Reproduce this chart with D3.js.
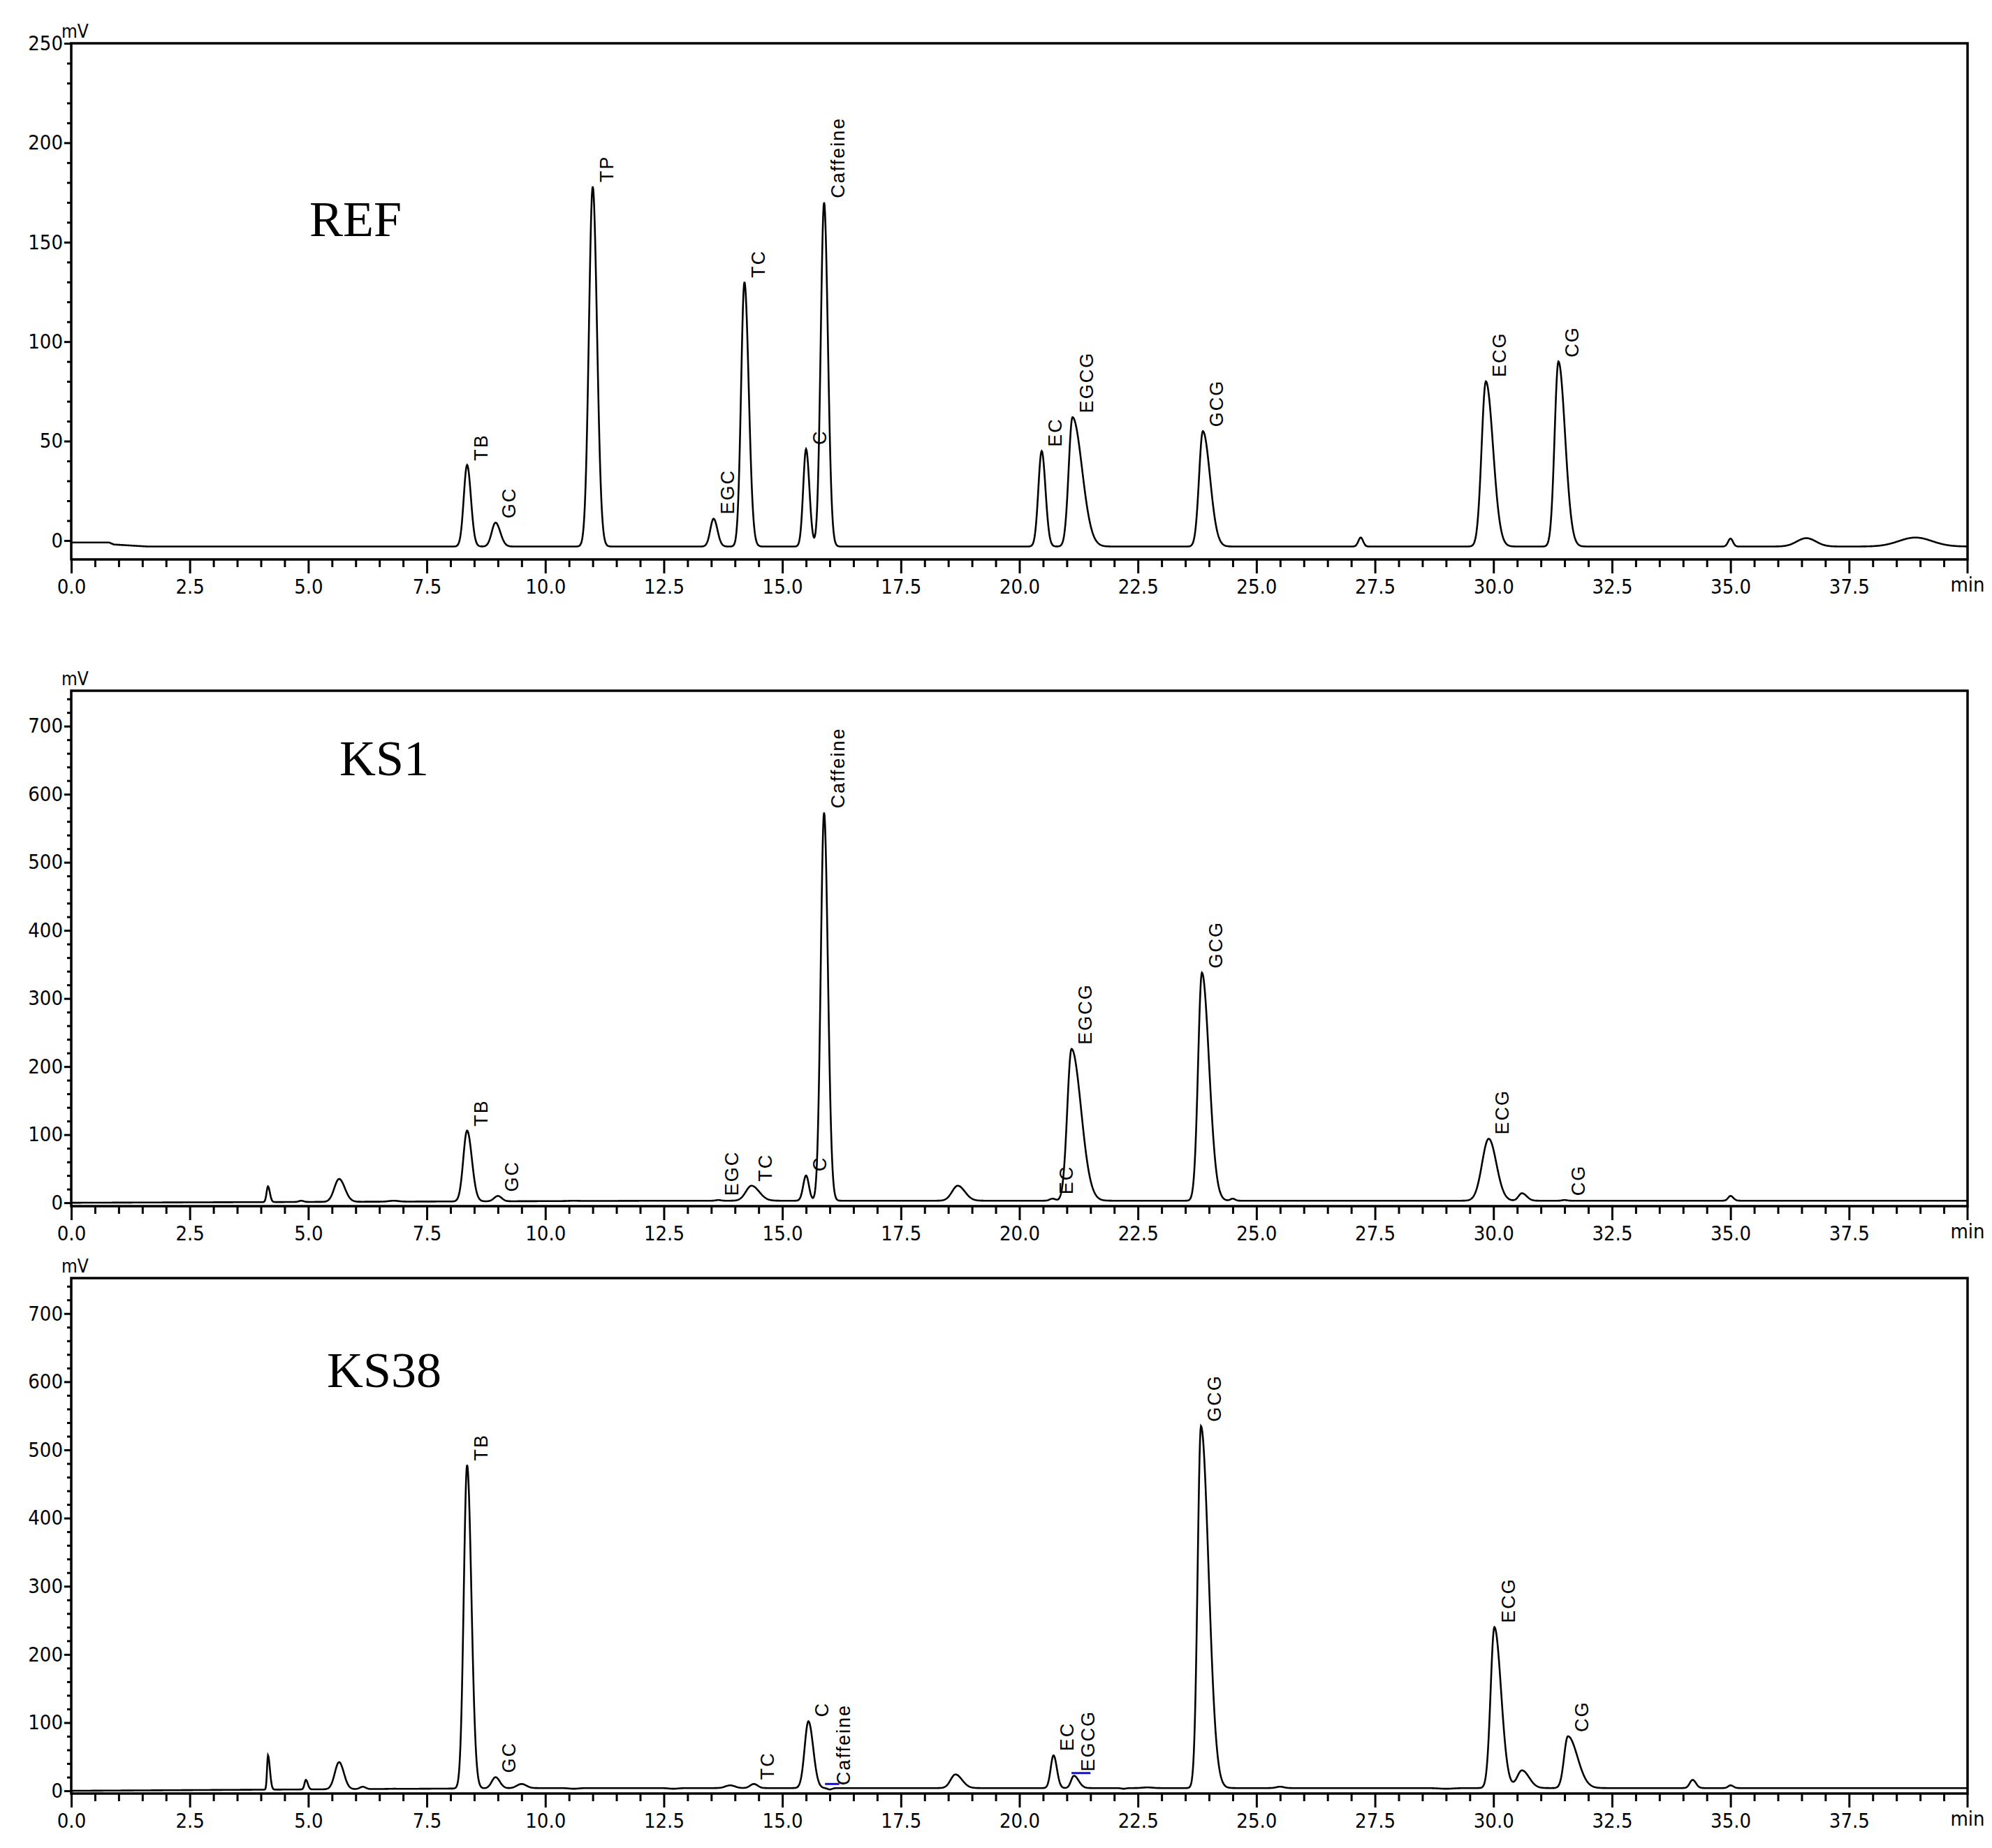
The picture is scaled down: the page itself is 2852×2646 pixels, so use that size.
<!DOCTYPE html>
<html><head><meta charset="utf-8">
<script src="https://cdn.jsdelivr.net/npm/d3@7"></script>
<style>body{margin:0;background:#fff}</style>
</head><body>
<svg id="c" width="2852" height="2646"></svg>
<script>
// ---- data ----
const xTicks = [0,2.5,5,7.5,10,12.5,15,17.5,20,22.5,25,27.5,30,32.5,35,37.5];
const sampleNames = ["REF","KS1","KS38"];
const yTicksRef = [0,50,100,150,200,250];
const yTicksKS = [0,100,200,300,400,500,600,700];

// REF: retention time, apex height (mV), sigma left, sigma right, label
const refRT   = [8.35,8.95,11.0,13.55,14.2,15.5,15.88,20.47,21.12,23.87,27.2,29.84,31.37,35.0,36.6,38.9];
const refH    = [38,9,178,11,130,46,170,45,62,55,1.5,80,90,1,1.2,1.5];
const refSL   = [0.07,0.08,0.08,0.07,0.07,0.06,0.07,0.07,0.08,0.08,0.05,0.09,0.08,0.05,0.2,0.35];
const refSR   = [0.08,0.1,0.09,0.08,0.09,0.07,0.08,0.08,0.2,0.15,0.05,0.15,0.14,0.05,0.2,0.35];
const refLab  = ["TB","GC","TP","EGC","TC","C","Caffeine","EC","EGCG","GCG","","ECG","CG","","",""];
const refBaseT = [0,0.8,0.9,1.6,40];
const refBaseV = [-1,-1,-2,-3,-3];

const ks1RT  = [4.15,4.85,5.65,6.8,8.35,9.0,10.6,13.65,14.35,15.5,15.88,18.7,20.7,21.1,22.3,23.85,24.5,25.5,29.9,30.6,31.5,35.0];
const ks1H   = [24,3,35,3,106,10,3,4,25,40,573,25,6,226,3,338,6,3,94,14,4,10];
const ks1SL  = [0.03,0.05,0.1,0.1,0.08,0.08,0.1,0.05,0.12,0.06,0.07,0.12,0.06,0.09,0.1,0.08,0.05,0.05,0.14,0.07,0.05,0.05];
const ks1SR  = [0.04,0.05,0.12,0.1,0.1,0.08,0.1,0.05,0.16,0.06,0.08,0.15,0.06,0.2,0.1,0.15,0.05,0.05,0.16,0.1,0.05,0.06];
const ks1Lab = ["","","","","TB","GC","","EGC","TC","C","Caffeine","","EC","EGCG","","GCG","","","ECG","","CG",""];
const ks1BaseT = [0,12.5,40];
const ks1BaseV = [0,3,3];

const ks38RT  = [4.15,4.95,5.65,6.15,6.8,8.35,8.95,9.5,10.6,12.7,13.9,14.4,15.55,16.0,18.65,20.72,21.15,21.8,22.2,22.7,23.83,25.5,29.0,30.02,30.6,31.57,34.2,35.0];
const ks38H   = [52,16,42,6,3,478,20,10,3,3,8,10,102,2,24,52,22,4,3,5,535,6,3,240,30,80,16,8];
const ks38SL  = [0.02,0.03,0.09,0.06,0.1,0.07,0.08,0.1,0.1,0.1,0.1,0.08,0.08,0.05,0.1,0.06,0.06,0.05,0.05,0.1,0.07,0.08,0.15,0.08,0.1,0.08,0.06,0.05];
const ks38SR  = [0.04,0.04,0.1,0.06,0.1,0.09,0.09,0.1,0.1,0.1,0.1,0.08,0.1,0.05,0.14,0.07,0.1,0.05,0.05,0.1,0.16,0.08,0.15,0.14,0.15,0.2,0.07,0.06];
const ks38Lab = ["","","","","","TB","GC","","","","","TC","C","Caffeine","","EC","EGCG","","","","GCG","","","ECG","","CG","",""];
const ks38BaseT = [0,9.8,40];
const ks38BaseV = [0,4,4];
const ks38BlueT = [[15.9,16.2],[21.1,21.5]];
const ks38BlueV = [10,26];

// ---- layout ----
const X0 = 102, X1 = 2817;
const panels = [
  {name:sampleNames[0], top:62, bottom:801, dom:[-9.5,250], ticks:yTicksRef, minor:10,
   rt:refRT,h:refH,sl:refSL,sr:refSR,lab:refLab,bt:refBaseT,bv:refBaseV, nameX:443, nameY:338},
  {name:sampleNames[1], top:989, bottom:1727, dom:[-5,752], ticks:yTicksKS, minor:20,
   rt:ks1RT,h:ks1H,sl:ks1SL,sr:ks1SR,lab:ks1Lab,bt:ks1BaseT,bv:ks1BaseV, nameX:486, nameY:1110},
  {name:sampleNames[2], top:1830, bottom:2568, dom:[-4,752], ticks:yTicksKS, minor:20,
   rt:ks38RT,h:ks38H,sl:ks38SL,sr:ks38SR,lab:ks38Lab,bt:ks38BaseT,bv:ks38BaseV, nameX:468, nameY:1986,
   blueT:ks38BlueT, blueV:ks38BlueV}
];

const svg = d3.select("#c");
const x = d3.scaleLinear().domain([0,40]).range([X0,X1]);
const tickFont = "'Liberation Sans Narrow','DejaVu Sans Condensed',sans-serif";
const times = d3.range(0,40.0001,0.01);

panels.forEach(p=>{
  const y = d3.scaleLinear().domain(p.dom).range([p.bottom,p.top]);
  const g = svg.append("g");
  const base = d3.scaleLinear().domain(p.bt).range(p.bv).clamp(true);
  const signal = t=>{
    let v = base(t);
    p.rt.forEach((r,i)=>{
      const s = t<r? p.sl[i] : p.sr[i];
      const d=(t-r)/s; if(Math.abs(d)<8) v += (p.h[i]-base(r))*Math.exp(-0.5*d*d);
    });
    return v;
  };
  const data = times.map(t=>[t,signal(t)]);
  g.append("path").datum(data)
    .attr("d", d3.line().x(d=>x(d[0])).y(d=>y(d[1])))
    .attr("fill","none").attr("stroke","#000").attr("stroke-width",2.6);

  // frame
  g.append("rect").attr("x",X0).attr("y",p.top).attr("width",X1-X0).attr("height",p.bottom-p.top)
    .attr("fill","none").attr("stroke","#000").attr("stroke-width",3.5);

  // x axis
  const xa = g.append("g").attr("transform",`translate(0,${p.bottom})`)
    .call(d3.axisBottom(x).tickValues(xTicks).tickSize(20).tickFormat(d3.format(".1f")));
  const xm = g.append("g").attr("transform",`translate(0,${p.bottom})`)
    .call(d3.axisBottom(x).tickValues(d3.range(0,40.01,0.5).filter(v=>v%2.5!==0)).tickSize(11).tickFormat(""));
  [xa,xm].forEach(a=>{a.select(".domain").remove(); a.selectAll("line").attr("stroke","#000").attr("stroke-width",3);});
  g.append("line").attr("x1",X1).attr("x2",X1).attr("y1",p.bottom).attr("y2",p.bottom+20).attr("stroke","#000").attr("stroke-width",3);
  xa.selectAll("text").attr("font-family",tickFont).attr("font-size",29).attr("fill","#000").attr("dy","0.9em");
  g.append("text").attr("x",X1).attr("y",p.bottom+20).attr("dy","0.9em").attr("text-anchor","middle")
    .attr("font-family",tickFont).attr("font-size",29).text("min");

  // y axis
  const ya = g.append("g").attr("transform",`translate(${X0},0)`)
    .call(d3.axisLeft(y).tickValues(p.ticks).tickSize(10).tickFormat(d3.format("d")));
  const ym = g.append("g").attr("transform",`translate(${X0},0)`)
    .call(d3.axisLeft(y).tickValues(d3.range(0,p.dom[1],p.minor).filter(v=>p.ticks.indexOf(v)<0)).tickSize(6).tickFormat(""));
  [ya,ym].forEach(a=>{a.select(".domain").remove(); a.selectAll("line").attr("stroke","#000").attr("stroke-width",3);});
  ya.selectAll("text").attr("font-family",tickFont).attr("font-size",29).attr("fill","#000").attr("x",-12);
  g.append("text").attr("x",X0-14).attr("y",p.top-8).attr("font-family",tickFont).attr("font-size",26).text("mV");

  // sample name
  g.append("text").attr("x",p.nameX).attr("y",p.nameY).attr("font-family","'Liberation Serif','DejaVu Serif',serif")
    .attr("font-size",72).text(p.name);

  // peak labels
  p.rt.forEach((r,i)=>{
    if(!p.lab[i]) return;
    const px = x(r), py = y(signal(r));
    g.append("text").attr("transform",`translate(${px+29},${py-6}) rotate(-90)`)
      .attr("font-family","'Liberation Sans',Arial,sans-serif").attr("font-size",27)
      .attr("letter-spacing",2).text(p.lab[i]);
  });

  // blue integration marks
  if(p.blueT){
    p.blueT.forEach((tt,i)=>{
      g.append("line").attr("x1",x(tt[0])).attr("x2",x(tt[1])).attr("y1",y(p.blueV[i])).attr("y2",y(p.blueV[i]))
        .attr("stroke","#1010e0").attr("stroke-width",3);
    });
  }
});
</script>
</body></html>
